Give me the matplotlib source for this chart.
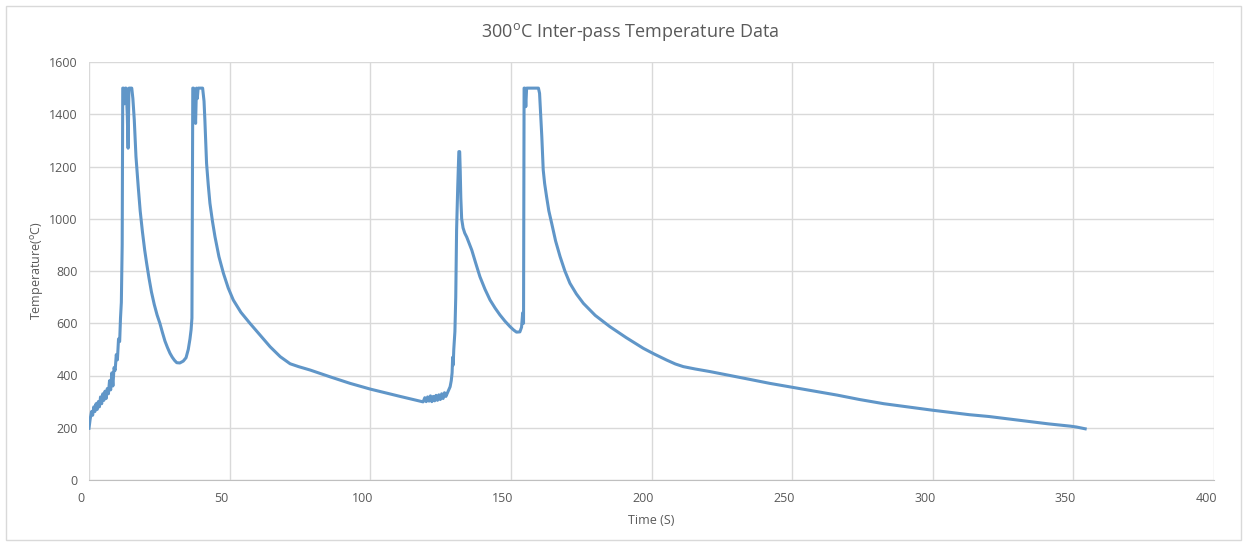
import matplotlib.pyplot as plt
import matplotlib.transforms as mtransforms
from matplotlib.patches import Rectangle

plt.rcParams['font.family'] = ['Open Sans', 'DejaVu Sans']
plt.rcParams['mathtext.fontset'] = 'custom'
plt.rcParams['mathtext.rm'] = 'Open Sans'

# Time (s) and temperature (degC)
time_s = [
    0.0, 0.4, 0.9, 1.3, 1.7, 2.1, 2.5, 2.9, 3.3, 3.7, 4.1, 4.5, 4.9, 5.3,
    5.7, 6.1, 6.5, 6.9, 7.3, 7.7, 8.1, 8.5, 8.9, 9.3, 9.7, 10.1, 10.5, 10.9,
    11.2, 11.5, 11.8, 12.0, 12.3, 12.6, 12.9, 13.2, 13.6, 13.9, 14.2, 15.2,
    15.6, 16.1, 16.7, 17.5, 18.2, 19.0, 19.8, 20.5, 21.3, 22.2, 23.2, 24.2,
    25.2, 26.1, 27.0, 27.9, 28.8, 29.6, 30.4, 31.2, 32.3, 33.5, 34.5, 35.3,
    35.9, 36.3, 36.6, 36.9, 37.2, 37.6, 37.9, 38.2, 38.5, 38.8, 40.4, 40.9,
    41.2, 41.5, 41.8, 42.4, 43.0, 43.9, 44.8, 46.2, 47.8, 49.5, 51.3, 54.0,
    57.2, 60.7, 64.4, 68.0, 71.5, 74.5, 78.6, 85.7, 92.8, 100.0, 110.6, 118.8,
    119.4, 119.9, 120.4, 120.9, 121.4, 121.9, 122.4, 122.9, 123.4, 123.9,
    124.4, 124.9, 125.4, 125.9, 126.4, 126.9, 127.3, 127.9, 128.4, 128.8,
    129.1, 129.3, 129.5, 129.7, 130.1, 130.4, 130.7, 131.1, 131.5, 131.8,
    132.0, 132.2, 132.5, 133.0, 133.6, 134.3, 135.2, 136.1, 137.5, 139.0,
    140.8, 142.6, 144.4, 146.1, 147.9, 149.7, 151.0, 152.0, 153.2, 153.8,
    154.2, 154.5, 154.7, 155.0, 155.3, 155.6, 155.9, 159.8, 160.2, 160.5,
    161.0, 161.5, 162.0, 162.7, 163.5, 164.5, 165.9, 167.5, 169.2, 171.0,
    173.3, 175.8, 180.0, 185.2, 191.0, 197.1, 201.0, 205.4, 208.5, 211.3,
    215.5, 220.8, 228.0, 235.0, 242.0, 250.0, 258.0, 266.0, 274.0, 282.6,
    291.0, 300.0, 307.0, 313.0, 320.0, 326.0, 331.0, 336.0, 341.0, 346.4,
    349.0, 351.0, 354.2,
]
temp_c = [
    198, 232, 262, 248, 280, 262, 292, 270, 300, 280, 318, 292, 330, 305,
    340, 312, 350, 330, 380, 345, 410, 360, 430, 420, 480, 460, 540, 530,
    620, 680, 900, 1500, 1500, 1440, 1500, 1500, 1400, 1270, 1500, 1500,
    1460, 1378, 1238, 1123, 1030, 950, 880, 829, 775, 720, 672, 632,
    600, 565, 532, 507, 485, 470, 458, 449, 448, 455, 468, 500,
    540, 575, 620, 1500, 1500, 1440, 1365, 1500, 1460, 1500, 1500, 1450,
    1378, 1290, 1212, 1130, 1059, 990, 931, 855, 791, 735, 689, 642,
    600, 556, 510, 472, 445, 434, 421, 395, 370, 348, 320, 299,
    315, 300, 318, 302, 322, 300, 320, 303, 324, 305,
    326, 308, 330, 312, 334, 320, 330, 345, 357, 380,
    410, 470, 440, 500, 568, 700, 957, 1120, 1257, 1257,
    1180, 1080, 1000, 965, 945, 930, 905, 880, 830, 778,
    730, 689, 658, 632, 608, 587, 574, 566, 567, 585,
    640, 600, 1500, 1500, 1429, 1500, 1500, 1500, 1480, 1420,
    1314, 1187, 1135, 1084, 1030, 983, 915, 855, 800, 753,
    712, 676, 630, 587, 545, 504, 482, 459, 444, 434,
    425, 415, 400, 385, 370, 355, 340, 325, 308, 292,
    280, 267, 258, 250, 243, 235, 228, 222, 215, 209,
    206, 203, 196,
]

x_ticks = [0, 50, 100, 150, 200, 250, 300, 350, 400]
y_ticks = [0, 200, 400, 600, 800, 1000, 1200, 1400, 1600]

text_color = '#595959'
grid_color = '#d9d9d9'

fig = plt.figure(figsize=(12.47, 5.42), dpi=100)
ax = fig.add_axes([89 / 1247, 62 / 542, (1214 - 89) / 1247, (480 - 62) / 542])

ax.plot(time_s, temp_c, color='#6096c8', linewidth=2.2, solid_joinstyle='round')

ax.set_xlim(0, 400)
ax.set_ylim(0, 1600)
ax.set_xticks(x_ticks)
ax.set_yticks(y_ticks)
ax.grid(True, color=grid_color, linewidth=1)
ax.set_axisbelow(True)
for side in ['left', 'top', 'right']:
    ax.spines[side].set_visible(False)
ax.spines['bottom'].set_color('#bfbfbf')
ax.tick_params(length=0, labelsize=9, labelcolor=text_color)
ax.tick_params(axis='x', pad=9)
ax.tick_params(axis='y', pad=8)

# Excel-style x labels sit just left of their gridline
offset = mtransforms.ScaledTranslation(-8 / 100, 0, fig.dpi_scale_trans)
for lbl in ax.get_xticklabels():
    lbl.set_transform(lbl.get_transform() + offset)

ax.set_xlabel('Time (S)', fontsize=9, color=text_color, labelpad=6)
fig.text(37 / 1247, 1 - 271 / 542, r'Temperature($^{\mathrm{o}}$C)', rotation=90,
         ha='center', va='center', fontsize=9, color=text_color)
fig.text(630 / 1247, 1 - 32 / 542, r'300$^{\mathrm{o}}$C Inter-pass Temperature Data',
         ha='center', va='center', fontsize=13, color=text_color)

fig.patches.append(Rectangle((6 / 1247, 2 / 542), 1235 / 1247, 534 / 542,
                             transform=fig.transFigure, fill=False,
                             edgecolor=grid_color, linewidth=1))

fig.savefig('out.png', dpi=100)
